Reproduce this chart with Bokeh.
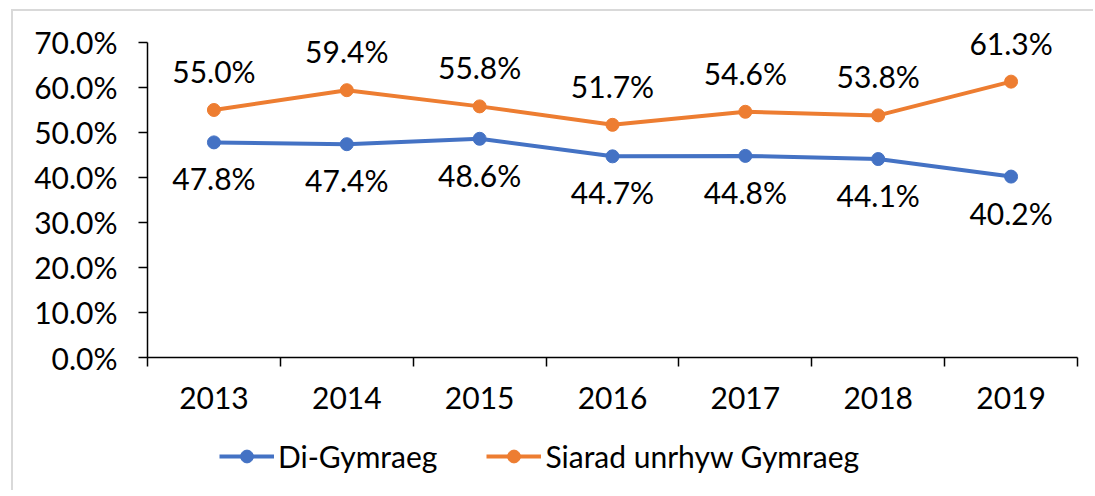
from bokeh.plotting import figure
from bokeh.layouts import column
from bokeh.models import (Range1d, FixedTicker, PrintfTickFormatter, Legend, LegendItem,
                          ColumnDataSource)
from bokeh.core.properties import value
from bokeh.embed import file_html
from bokeh.resources import INLINE

years = ["2013", "2014", "2015", "2016", "2017", "2018", "2019"]
di_gymraeg = [47.8, 47.4, 48.6, 44.7, 44.8, 44.1, 40.2]
siarad = [55.0, 59.4, 55.8, 51.7, 54.6, 53.8, 61.3]
y_ticks = [0, 10, 20, 30, 40, 50, 60, 70]
series_names = ["Di-Gymraeg", "Siarad unrhyw Gymraeg"]

BLUE = "#4472C4"
ORANGE = "#ED7D31"
FONT = "Lato"
FS = "30px"

xs = [i + 0.5 for i in range(len(years))]

# main chart: frame left 147, right 1077, 70% at y=42, 0% at y=357 (page px)
p = figure(width=1080, height=409, output_backend="svg", toolbar_location=None,
           x_range=Range1d(0, len(years)), y_range=Range1d(0, 76.44),
           min_border_left=134, min_border_right=16, min_border_top=2, min_border_bottom=63)
p.outline_line_color = None
p.grid.visible = False

src_b = ColumnDataSource(dict(x=xs, y=di_gymraeg, t=[f"{v:.1f}%" for v in di_gymraeg]))
src_o = ColumnDataSource(dict(x=xs, y=siarad, t=[f"{v:.1f}%" for v in siarad]))

p.line("x", "y", source=src_b, line_color=BLUE, line_width=4)
p.scatter("x", "y", source=src_b, size=13, fill_color=BLUE, line_color=BLUE)
p.line("x", "y", source=src_o, line_color=ORANGE, line_width=4)
p.scatter("x", "y", source=src_o, size=13, fill_color=ORANGE, line_color=ORANGE)

p.text("x", "y", text="t", source=src_o, text_align="center", text_baseline="middle",
       y_offset=-39, text_font=value(FONT), text_font_size=FS, text_color="black")
p.text("x", "y", text="t", source=src_b, text_align="center", text_baseline="middle",
       y_offset=36, text_font=value(FONT), text_font_size=FS, text_color="black")

# x axis: labels at category centres, ticks at category boundaries
p.xaxis.ticker = FixedTicker(ticks=xs, minor_ticks=list(range(len(years) + 1)))
p.xaxis.major_label_overrides = {x: y for x, y in zip(xs, years)}
p.xaxis.major_tick_out = 0
p.xaxis.major_tick_in = 0
p.xaxis.minor_tick_out = 9
p.xaxis.minor_tick_in = 0
p.xaxis.minor_tick_line_color = "black"
p.xaxis.minor_tick_line_width = 1.5
p.xaxis.major_label_standoff = 20

# y axis
p.yaxis.ticker = FixedTicker(ticks=y_ticks, minor_ticks=[])
p.yaxis.bounds = (0, 70)
p.yaxis.formatter = PrintfTickFormatter(format="%.1f%%")
p.yaxis.major_tick_out = 9
p.yaxis.major_tick_in = 0
p.yaxis.major_label_standoff = 21

for ax in (p.xaxis, p.yaxis):
    ax.axis_line_color = "black"
    ax.axis_line_width = 1.5
    ax.major_tick_line_color = "black"
    ax.major_tick_line_width = 1.5
    ax.major_label_text_font = FONT
    ax.major_label_text_font_size = FS
    ax.major_label_text_color = "black"

# legend strip (renderers share the data but fall outside this strip's range)
lf = figure(width=1080, height=70, output_backend="svg", toolbar_location=None,
            x_axis_location=None, y_axis_location=None,
            x_range=Range1d(0, len(years)), y_range=Range1d(-2, -1),
            min_border_left=0, min_border_right=0, min_border_top=0, min_border_bottom=0)
lf.outline_line_color = None
lf.grid.visible = False
l1 = lf.line("x", "y", source=src_b, line_color=BLUE, line_width=4)
m1 = lf.scatter("x", "y", source=src_b, fill_color=BLUE, line_color=BLUE)
l2 = lf.line("x", "y", source=src_o, line_color=ORANGE, line_width=4)
m2 = lf.scatter("x", "y", source=src_o, fill_color=ORANGE, line_color=ORANGE)
legend = Legend(items=[LegendItem(label=series_names[0], renderers=[l1, m1]),
                       LegendItem(label=series_names[1], renderers=[l2, m2])],
                orientation="horizontal", location=(72, 16),
                label_text_font=FONT, label_text_font_size=FS, label_text_color="black",
                glyph_width=55, glyph_height=32,
                label_standoff=4, spacing=49, padding=0, margin=0,
                border_line_color=None, background_fill_alpha=0)
lf.add_layout(legend, "center")

layout = column(p, lf, spacing=0,
                styles={"margin-left": "11px", "margin-top": "9px",
                        "border-left": "2px solid #d9d9d9", "border-top": "2px solid #d9d9d9"})

open("out.html", "w").write(file_html(layout, INLINE))
